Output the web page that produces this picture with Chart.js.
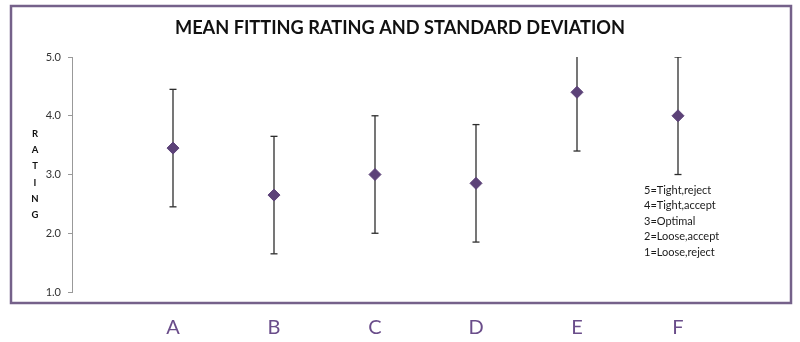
<!DOCTYPE html>
<html>
<head>
    <title>Mean Fitting Rating and Standard Deviation</title>
    <script src="https://cdn.jsdelivr.net/npm/chart.js"></script>
    <style>
        body { margin: 0; background: #fff; }
    </style>
</head>
<body>
    <div style="width: 800px; height: 342px;">
        <canvas id="myChart" width="800" height="342"></canvas>
    </div>
    <script>
        // data
        const categories = ['A', 'B', 'C', 'D', 'E', 'F'];
        const meanRating = [3.45, 2.65, 3.0, 2.85, 4.4, 4.0];
        const stdDev = [1.0, 1.0, 1.0, 1.0, 1.0, 1.0];
        const yTicks = [1, 2, 3, 4, 5];
        const scaleNotes = ['5=Tight,reject', '4=Tight,accept', '3=Optimal', '2=Loose,accept', '1=Loose,reject'];
        const axisWord = 'RATING';

        const yMin = 1, yMax = 5;
        const purple = '#5c4278';

        const points = meanRating.map((m, i) => ({ x: i + 1, y: m }));
        // whiskers: one line dataset, broken with nulls between categories
        const whiskers = [];
        const caps = [];
        meanRating.forEach((m, i) => {
            const lo = Math.max(m - stdDev[i], yMin);
            const hi = Math.min(m + stdDev[i], yMax);
            whiskers.push({ x: i + 1, y: lo }, { x: i + 1, y: hi }, { x: i + 1, y: null });
            if (m - stdDev[i] >= yMin) caps.push({ x: i + 1, y: lo });
            if (m + stdDev[i] <= yMax + 0.001) caps.push({ x: i + 1, y: hi });
        });

        // frame, stacked axis word and the scale notes
        const extras = {
            id: 'extras',
            beforeDraw(chart) {
                const ctx = chart.ctx;
                const a = chart.chartArea;
                ctx.save();
                ctx.strokeStyle = '#75618a';
                ctx.lineWidth = 2.5;
                ctx.strokeRect(a.left - 61, 6, a.right - a.left + 73, a.bottom - 6 + 11);
                ctx.restore();
            },
            afterDraw(chart) {
                const ctx = chart.ctx;
                const a = chart.chartArea;
                ctx.save();
                ctx.fillStyle = '#111';
                ctx.textAlign = 'center';
                ctx.textBaseline = 'middle';
                ctx.font = 'bold 9.5px Lato';
                const mid = (a.top + a.bottom) / 2;
                const step = 16.2;
                for (let i = 0; i < axisWord.length; i++) {
                    ctx.fillText(axisWord[i], a.left - 37, mid + (i - (axisWord.length - 1) / 2) * step);
                }
                ctx.textAlign = 'left';
                ctx.fillStyle = '#1a1a1a';
                ctx.font = '11px Lato';
                const x0 = a.right - 135;
                scaleNotes.forEach((t, i) => {
                    ctx.fillText(t, x0, 190 + i * 15.6);
                });
                ctx.restore();
            }
        };

        const ctx = document.getElementById('myChart').getContext('2d');
        const myChart = new Chart(ctx, {
            type: 'scatter',
            data: {
                datasets: [
                    {
                        label: 'Mean',
                        data: points,
                        pointStyle: 'rectRot',
                        pointRadius: 6,
                        backgroundColor: purple,
                        borderColor: purple,
                        borderWidth: 1,
                        order: 0
                    },
                    {
                        label: 'SD',
                        data: whiskers,
                        showLine: true,
                        spanGaps: false,
                        pointRadius: 0,
                        borderColor: '#2e2e2e',
                        borderWidth: 1.3,
                        order: 1
                    },
                    {
                        label: 'Caps',
                        data: caps,
                        pointStyle: 'line',
                        pointRadius: 3.5,
                        borderColor: '#2e2e2e',
                        borderWidth: 1.3,
                        order: 1
                    }
                ]
            },
            options: {
                responsive: false,
                animation: false,
                layout: { padding: 0 },
                plugins: {
                    legend: { display: false },
                    tooltip: { enabled: false },
                    title: {
                        display: true,
                        text: 'MEAN FITTING RATING AND STANDARD DEVIATION',
                        color: '#111',
                        font: { family: 'Lato', size: 18.2, weight: 'bold' },
                        padding: { top: 17.5, bottom: 17.7 }
                    }
                },
                scales: {
                    x: {
                        type: 'linear',
                        min: 0,
                        max: categories.length + 1,
                        afterFit: (s) => { s.height = 50; },
                        afterBuildTicks: (s) => {
                            s.ticks = categories.map((c, i) => ({ value: i + 1 }));
                        },
                        ticks: {
                            callback: (v) => categories[v - 1] || '',
                            color: '#6a4d8a',
                            font: { family: 'Lato', size: 20 },
                            padding: 16,
                            maxRotation: 0
                        },
                        grid: { display: false },
                        border: { display: false }
                    },
                    y: {
                        min: yMin,
                        max: yMax,
                        afterFit: (s) => { s.width = 72; },
                        afterBuildTicks: (s) => {
                            s.ticks = yTicks.map(v => ({ value: v }));
                        },
                        ticks: {
                            callback: (v) => v.toFixed(1),
                            color: '#333',
                            font: { family: 'Lato', size: 11 },
                            padding: 7
                        },
                        grid: {
                            drawOnChartArea: false,
                            drawTicks: true,
                            tickLength: 4,
                            color: '#999'
                        },
                        border: { display: true, color: '#999', width: 1 }
                    },
                    // empty right-hand axis, only keeps the plot off the right edge
                    yRight: {
                        position: 'right',
                        min: yMin,
                        max: yMax,
                        afterFit: (s) => { s.width = 21; },
                        ticks: { display: false },
                        grid: { display: false },
                        border: { display: false }
                    }
                }
            },
            plugins: [extras]
        });
    </script>
</body>
</html>
